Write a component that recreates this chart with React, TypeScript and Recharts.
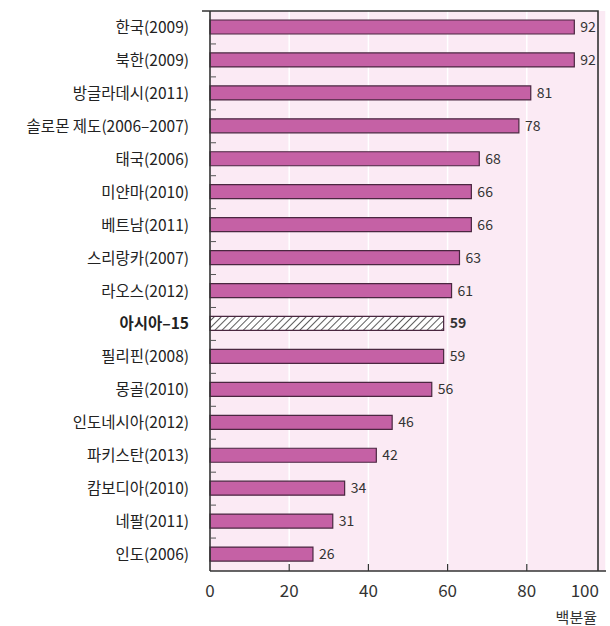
import { BarChart, Bar, XAxis, YAxis, CartesianGrid, LabelList, Cell } from "recharts"

const countries = [
  "한국(2009)",
  "북한(2009)",
  "방글라데시(2011)",
  "솔로몬 제도(2006–2007)",
  "태국(2006)",
  "미얀마(2010)",
  "베트남(2011)",
  "스리랑카(2007)",
  "라오스(2012)",
  "아시아–15",
  "필리핀(2008)",
  "몽골(2010)",
  "인도네시아(2012)",
  "파키스탄(2013)",
  "캄보디아(2010)",
  "네팔(2011)",
  "인도(2006)",
]
const percents = [92, 92, 81, 78, 68, 66, 66, 63, 61, 59, 59, 56, 46, 42, 34, 31, 26]
const xTicks = [0, 20, 40, 60, 80, 100]
const highlight = "아시아–15"

const data = countries.map((name, i) => ({ name, value: percents[i] }))

const FONT = "'Noto Sans CJK KR', 'Liberation Sans', sans-serif"
const W = 610
const H = 626
const M = { top: 11, right: 4, left: 10, bottom: 0 }
const Y_W = 200
const X_H = 55
const PLOT_W = W - M.left - M.right - Y_W
const PLOT_H = H - M.top - M.bottom - X_H
const BAND = PLOT_H / countries.length

// category label plus the little inner tick between rows
function CountryTick(props: any) {
  const { x, y, payload, index } = props
  const bold = payload.value === highlight
  return (
    <g>
      <text x={x - 21} y={y} dy={5.5} textAnchor="end" fontSize={15.5} fill="#222"
        fontFamily={FONT} fontWeight={bold ? 700 : 400}>
        {payload.value}
      </text>
      {index < countries.length - 1 && (
        <line x1={x} x2={x + 6} y1={y + BAND / 2} y2={y + BAND / 2} stroke="#555" strokeWidth={1} />
      )}
    </g>
  )
}

// value tick, inner tick mark; the last one also closes the frame (top + right) and carries the unit
function PercentTick(props: any) {
  const { x, y, payload, index } = props
  const last = index === xTicks.length - 1
  return (
    <g>
      {index > 0 && !last && <line x1={x} x2={x} y1={y} y2={y - 7} stroke="#333" strokeWidth={1.2} />}
      {last && (
        <path d={`M${x},${y} L${x},${y - PLOT_H} L${x - PLOT_W},${y - PLOT_H}`}
          fill="none" stroke="#333" strokeWidth={1.6} />
      )}
      <text x={last ? x + 1 : x} y={y + 26} textAnchor={last ? "end" : "middle"} fontSize={17} fill="#333" fontFamily={FONT}>
        {payload.value}
      </text>
      {last && (
        <text x={x - 1} y={y + 52} textAnchor="end" fontSize={15} fill="#333" fontFamily={FONT}>
          백분율
        </text>
      )}
    </g>
  )
}

function ValueLabel(props: any) {
  const { x, y, width, height, value, index } = props
  const bold = countries[index] === highlight
  return (
    <text x={x + width + 6} y={y + height / 2} dy={5} fontSize={14} fill="#333"
      fontFamily={FONT} fontWeight={bold ? 700 : 400}>
      {value}
    </text>
  )
}

export default function App() {
  return (
    <div style={{ position: "absolute", left: 0, top: 0, background: "#fff" }}>
      <BarChart
        width={W}
        height={H}
        data={data}
        layout="vertical"
        margin={M}
        barCategoryGap={0}
      >
        <defs>
          <pattern id="hatch" patternUnits="userSpaceOnUse" width={5} height={5} patternTransform="rotate(45)">
            <rect width={5} height={5} fill="#fff" />
            <line x1={0} y1={0} x2={0} y2={5} stroke="#333" strokeWidth={1.6} />
          </pattern>
        </defs>
        <CartesianGrid horizontal={false} fill="#fbeaf4" stroke="#ffffff" strokeWidth={1.5} />
        <XAxis
          type="number"
          domain={[0, 100]}
          ticks={xTicks}
          height={X_H}
          tickSize={0}
          tickMargin={0}
          axisLine={{ stroke: "#333", strokeWidth: 1.6 }}
          tickLine={false}
          tick={<PercentTick />}
        />
        <YAxis
          type="category"
          dataKey="name"
          width={Y_W}
          tickSize={0}
          tickMargin={0}
          axisLine={{ stroke: "#333", strokeWidth: 1.6 }}
          tickLine={false}
          interval={0}
          tick={<CountryTick />}
        />
        <Bar dataKey="value" barSize={14} stroke="#4a2740" strokeWidth={1.2} isAnimationActive={false}>
          {data.map((d) => (
            <Cell key={d.name} fill={d.name === highlight ? "url(#hatch)" : "#c561a5"} />
          ))}
          <LabelList dataKey="value" content={<ValueLabel />} />
        </Bar>
      </BarChart>
    </div>
  )
}
